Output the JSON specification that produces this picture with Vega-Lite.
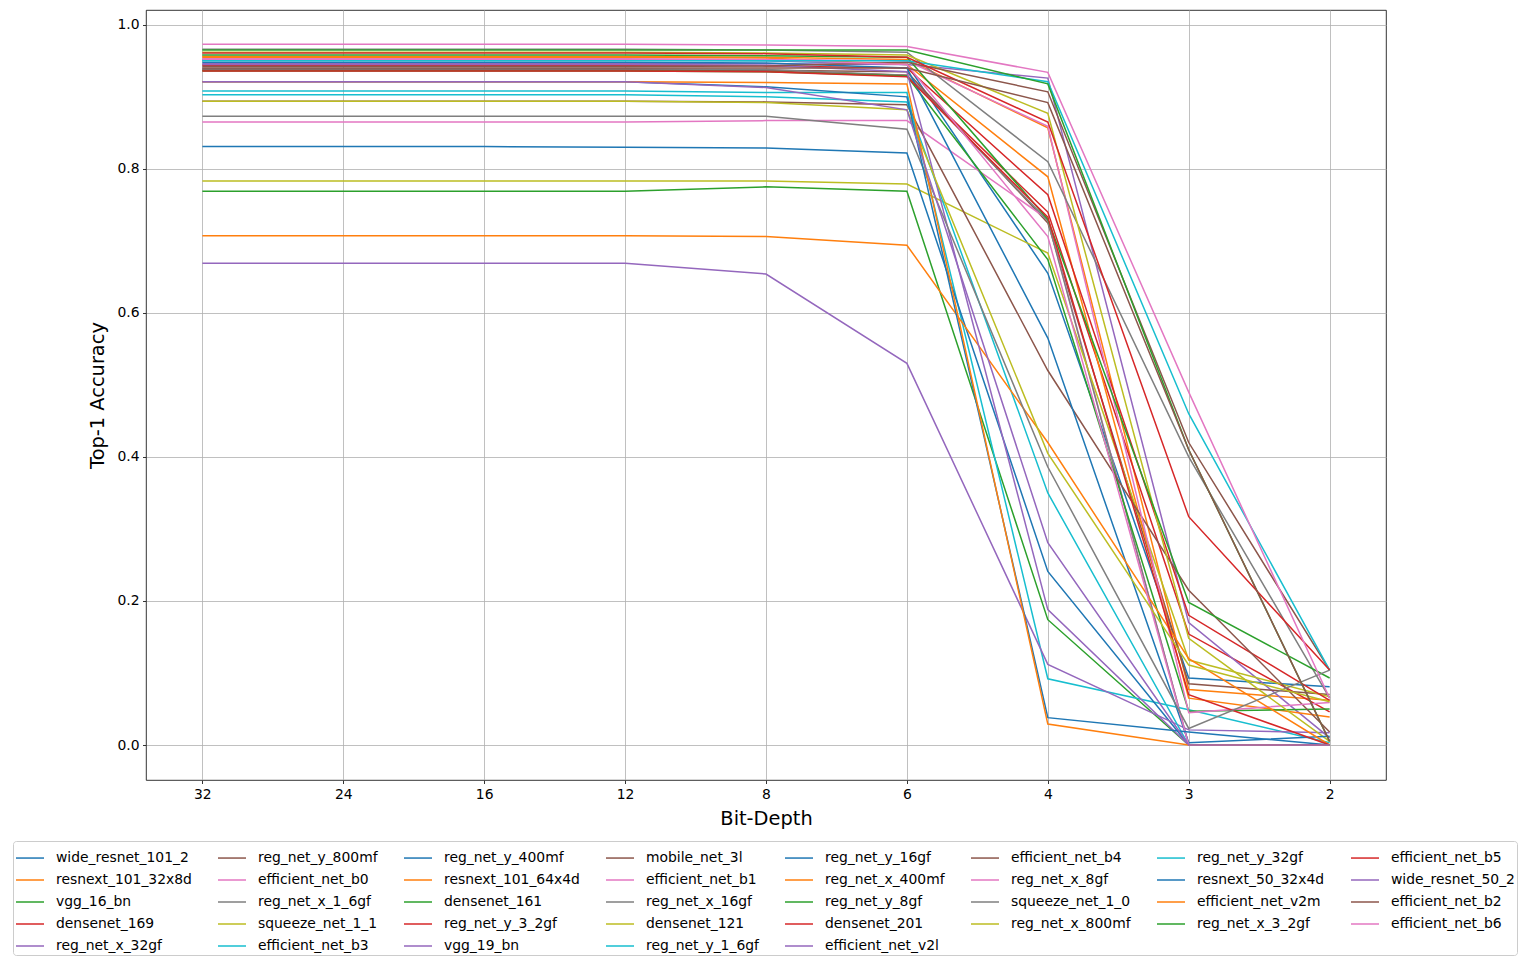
{
  "$schema": "https://vega.github.io/schema/vega-lite/v6.json",
  "width": 1240,
  "height": 770,
  "autosize": {"type": "none"},
  "padding": {"left": 146, "top": 10, "right": 145, "bottom": 184},
  "background": "white",
  "data": {
    "values": [
      {"model": "wide_resnet_101_2", "bits": "32", "acc": 0.951}, {"model": "wide_resnet_101_2", "bits": "24", "acc": 0.951}, {"model": "wide_resnet_101_2", "bits": "16", "acc": 0.951}, {"model": "wide_resnet_101_2", "bits": "12", "acc": 0.951}, {"model": "wide_resnet_101_2", "bits": "8", "acc": 0.950}, {"model": "wide_resnet_101_2", "bits": "6", "acc": 0.945}, {"model": "wide_resnet_101_2", "bits": "4", "acc": 0.655}, {"model": "wide_resnet_101_2", "bits": "3", "acc": 0.093}, {"model": "wide_resnet_101_2", "bits": "2", "acc": 0.081},
      {"model": "resnext_101_32x8d", "bits": "32", "acc": 0.956}, {"model": "resnext_101_32x8d", "bits": "24", "acc": 0.956}, {"model": "resnext_101_32x8d", "bits": "16", "acc": 0.956}, {"model": "resnext_101_32x8d", "bits": "12", "acc": 0.956}, {"model": "resnext_101_32x8d", "bits": "8", "acc": 0.955}, {"model": "resnext_101_32x8d", "bits": "6", "acc": 0.952}, {"model": "resnext_101_32x8d", "bits": "4", "acc": 0.857}, {"model": "resnext_101_32x8d", "bits": "3", "acc": 0.077}, {"model": "resnext_101_32x8d", "bits": "2", "acc": 0.062},
      {"model": "vgg_16_bn", "bits": "32", "acc": 0.769}, {"model": "vgg_16_bn", "bits": "24", "acc": 0.769}, {"model": "vgg_16_bn", "bits": "16", "acc": 0.769}, {"model": "vgg_16_bn", "bits": "12", "acc": 0.769}, {"model": "vgg_16_bn", "bits": "8", "acc": 0.775}, {"model": "vgg_16_bn", "bits": "6", "acc": 0.769}, {"model": "vgg_16_bn", "bits": "4", "acc": 0.174}, {"model": "vgg_16_bn", "bits": "3", "acc": 0.0}, {"model": "vgg_16_bn", "bits": "2", "acc": 0.0},
      {"model": "densenet_169", "bits": "32", "acc": 0.937}, {"model": "densenet_169", "bits": "24", "acc": 0.937}, {"model": "densenet_169", "bits": "16", "acc": 0.937}, {"model": "densenet_169", "bits": "12", "acc": 0.937}, {"model": "densenet_169", "bits": "8", "acc": 0.936}, {"model": "densenet_169", "bits": "6", "acc": 0.930}, {"model": "densenet_169", "bits": "4", "acc": 0.740}, {"model": "densenet_169", "bits": "3", "acc": 0.154}, {"model": "densenet_169", "bits": "2", "acc": 0.046},
      {"model": "reg_net_x_32gf", "bits": "32", "acc": 0.946}, {"model": "reg_net_x_32gf", "bits": "24", "acc": 0.946}, {"model": "reg_net_x_32gf", "bits": "16", "acc": 0.946}, {"model": "reg_net_x_32gf", "bits": "12", "acc": 0.946}, {"model": "reg_net_x_32gf", "bits": "8", "acc": 0.946}, {"model": "reg_net_x_32gf", "bits": "6", "acc": 0.945}, {"model": "reg_net_x_32gf", "bits": "4", "acc": 0.926}, {"model": "reg_net_x_32gf", "bits": "3", "acc": 0.170}, {"model": "reg_net_x_32gf", "bits": "2", "acc": 0.010},
      {"model": "reg_net_y_800mf", "bits": "32", "acc": 0.938}, {"model": "reg_net_y_800mf", "bits": "24", "acc": 0.938}, {"model": "reg_net_y_800mf", "bits": "16", "acc": 0.938}, {"model": "reg_net_y_800mf", "bits": "12", "acc": 0.938}, {"model": "reg_net_y_800mf", "bits": "8", "acc": 0.937}, {"model": "reg_net_y_800mf", "bits": "6", "acc": 0.935}, {"model": "reg_net_y_800mf", "bits": "4", "acc": 0.725}, {"model": "reg_net_y_800mf", "bits": "3", "acc": 0.085}, {"model": "reg_net_y_800mf", "bits": "2", "acc": 0.070},
      {"model": "efficient_net_b0", "bits": "32", "acc": 0.865}, {"model": "efficient_net_b0", "bits": "24", "acc": 0.865}, {"model": "efficient_net_b0", "bits": "16", "acc": 0.865}, {"model": "efficient_net_b0", "bits": "12", "acc": 0.865}, {"model": "efficient_net_b0", "bits": "8", "acc": 0.867}, {"model": "efficient_net_b0", "bits": "6", "acc": 0.867}, {"model": "efficient_net_b0", "bits": "4", "acc": 0.730}, {"model": "efficient_net_b0", "bits": "3", "acc": 0.0}, {"model": "efficient_net_b0", "bits": "2", "acc": 0.0},
      {"model": "reg_net_x_1_6gf", "bits": "32", "acc": 0.939}, {"model": "reg_net_x_1_6gf", "bits": "24", "acc": 0.939}, {"model": "reg_net_x_1_6gf", "bits": "16", "acc": 0.939}, {"model": "reg_net_x_1_6gf", "bits": "12", "acc": 0.939}, {"model": "reg_net_x_1_6gf", "bits": "8", "acc": 0.938}, {"model": "reg_net_x_1_6gf", "bits": "6", "acc": 0.930}, {"model": "reg_net_x_1_6gf", "bits": "4", "acc": 0.728}, {"model": "reg_net_x_1_6gf", "bits": "3", "acc": 0.0}, {"model": "reg_net_x_1_6gf", "bits": "2", "acc": 0.0},
      {"model": "squeeze_net_1_1", "bits": "32", "acc": 0.783}, {"model": "squeeze_net_1_1", "bits": "24", "acc": 0.783}, {"model": "squeeze_net_1_1", "bits": "16", "acc": 0.783}, {"model": "squeeze_net_1_1", "bits": "12", "acc": 0.783}, {"model": "squeeze_net_1_1", "bits": "8", "acc": 0.783}, {"model": "squeeze_net_1_1", "bits": "6", "acc": 0.779}, {"model": "squeeze_net_1_1", "bits": "4", "acc": 0.683}, {"model": "squeeze_net_1_1", "bits": "3", "acc": 0.118}, {"model": "squeeze_net_1_1", "bits": "2", "acc": 0.067},
      {"model": "efficient_net_b3", "bits": "32", "acc": 0.908}, {"model": "efficient_net_b3", "bits": "24", "acc": 0.908}, {"model": "efficient_net_b3", "bits": "16", "acc": 0.908}, {"model": "efficient_net_b3", "bits": "12", "acc": 0.908}, {"model": "efficient_net_b3", "bits": "8", "acc": 0.906}, {"model": "efficient_net_b3", "bits": "6", "acc": 0.906}, {"model": "efficient_net_b3", "bits": "4", "acc": 0.092}, {"model": "efficient_net_b3", "bits": "3", "acc": 0.049}, {"model": "efficient_net_b3", "bits": "2", "acc": 0.003},
      {"model": "reg_net_y_400mf", "bits": "32", "acc": 0.831}, {"model": "reg_net_y_400mf", "bits": "24", "acc": 0.831}, {"model": "reg_net_y_400mf", "bits": "16", "acc": 0.831}, {"model": "reg_net_y_400mf", "bits": "12", "acc": 0.830}, {"model": "reg_net_y_400mf", "bits": "8", "acc": 0.829}, {"model": "reg_net_y_400mf", "bits": "6", "acc": 0.822}, {"model": "reg_net_y_400mf", "bits": "4", "acc": 0.241}, {"model": "reg_net_y_400mf", "bits": "3", "acc": 0.0}, {"model": "reg_net_y_400mf", "bits": "2", "acc": 0.0},
      {"model": "resnext_101_64x4d", "bits": "32", "acc": 0.955}, {"model": "resnext_101_64x4d", "bits": "24", "acc": 0.955}, {"model": "resnext_101_64x4d", "bits": "16", "acc": 0.955}, {"model": "resnext_101_64x4d", "bits": "12", "acc": 0.955}, {"model": "resnext_101_64x4d", "bits": "8", "acc": 0.954}, {"model": "resnext_101_64x4d", "bits": "6", "acc": 0.945}, {"model": "resnext_101_64x4d", "bits": "4", "acc": 0.789}, {"model": "resnext_101_64x4d", "bits": "3", "acc": 0.065}, {"model": "resnext_101_64x4d", "bits": "2", "acc": 0.039},
      {"model": "densenet_161", "bits": "32", "acc": 0.936}, {"model": "densenet_161", "bits": "24", "acc": 0.936}, {"model": "densenet_161", "bits": "16", "acc": 0.936}, {"model": "densenet_161", "bits": "12", "acc": 0.936}, {"model": "densenet_161", "bits": "8", "acc": 0.935}, {"model": "densenet_161", "bits": "6", "acc": 0.929}, {"model": "densenet_161", "bits": "4", "acc": 0.674}, {"model": "densenet_161", "bits": "3", "acc": 0.047}, {"model": "densenet_161", "bits": "2", "acc": 0.050},
      {"model": "reg_net_y_3_2gf", "bits": "32", "acc": 0.944}, {"model": "reg_net_y_3_2gf", "bits": "24", "acc": 0.944}, {"model": "reg_net_y_3_2gf", "bits": "16", "acc": 0.944}, {"model": "reg_net_y_3_2gf", "bits": "12", "acc": 0.944}, {"model": "reg_net_y_3_2gf", "bits": "8", "acc": 0.943}, {"model": "reg_net_y_3_2gf", "bits": "6", "acc": 0.940}, {"model": "reg_net_y_3_2gf", "bits": "4", "acc": 0.764}, {"model": "reg_net_y_3_2gf", "bits": "3", "acc": 0.180}, {"model": "reg_net_y_3_2gf", "bits": "2", "acc": 0.062},
      {"model": "vgg_19_bn", "bits": "32", "acc": 0.669}, {"model": "vgg_19_bn", "bits": "24", "acc": 0.669}, {"model": "vgg_19_bn", "bits": "16", "acc": 0.669}, {"model": "vgg_19_bn", "bits": "12", "acc": 0.669}, {"model": "vgg_19_bn", "bits": "8", "acc": 0.654}, {"model": "vgg_19_bn", "bits": "6", "acc": 0.530}, {"model": "vgg_19_bn", "bits": "4", "acc": 0.112}, {"model": "vgg_19_bn", "bits": "3", "acc": 0.021}, {"model": "vgg_19_bn", "bits": "2", "acc": 0.017},
      {"model": "mobile_net_3l", "bits": "32", "acc": 0.894}, {"model": "mobile_net_3l", "bits": "24", "acc": 0.894}, {"model": "mobile_net_3l", "bits": "16", "acc": 0.894}, {"model": "mobile_net_3l", "bits": "12", "acc": 0.894}, {"model": "mobile_net_3l", "bits": "8", "acc": 0.893}, {"model": "mobile_net_3l", "bits": "6", "acc": 0.889}, {"model": "mobile_net_3l", "bits": "4", "acc": 0.520}, {"model": "mobile_net_3l", "bits": "3", "acc": 0.215}, {"model": "mobile_net_3l", "bits": "2", "acc": 0.018},
      {"model": "efficient_net_b1", "bits": "32", "acc": 0.953}, {"model": "efficient_net_b1", "bits": "24", "acc": 0.953}, {"model": "efficient_net_b1", "bits": "16", "acc": 0.953}, {"model": "efficient_net_b1", "bits": "12", "acc": 0.953}, {"model": "efficient_net_b1", "bits": "8", "acc": 0.952}, {"model": "efficient_net_b1", "bits": "6", "acc": 0.950}, {"model": "efficient_net_b1", "bits": "4", "acc": 0.859}, {"model": "efficient_net_b1", "bits": "3", "acc": 0.045}, {"model": "efficient_net_b1", "bits": "2", "acc": 0.059},
      {"model": "reg_net_x_16gf", "bits": "32", "acc": 0.966}, {"model": "reg_net_x_16gf", "bits": "24", "acc": 0.966}, {"model": "reg_net_x_16gf", "bits": "16", "acc": 0.966}, {"model": "reg_net_x_16gf", "bits": "12", "acc": 0.966}, {"model": "reg_net_x_16gf", "bits": "8", "acc": 0.965}, {"model": "reg_net_x_16gf", "bits": "6", "acc": 0.962}, {"model": "reg_net_x_16gf", "bits": "4", "acc": 0.810}, {"model": "reg_net_x_16gf", "bits": "3", "acc": 0.400}, {"model": "reg_net_x_16gf", "bits": "2", "acc": 0.065},
      {"model": "densenet_121", "bits": "32", "acc": 0.962}, {"model": "densenet_121", "bits": "24", "acc": 0.962}, {"model": "densenet_121", "bits": "16", "acc": 0.962}, {"model": "densenet_121", "bits": "12", "acc": 0.962}, {"model": "densenet_121", "bits": "8", "acc": 0.961}, {"model": "densenet_121", "bits": "6", "acc": 0.958}, {"model": "densenet_121", "bits": "4", "acc": 0.877}, {"model": "densenet_121", "bits": "3", "acc": 0.148}, {"model": "densenet_121", "bits": "2", "acc": 0.005},
      {"model": "reg_net_y_1_6gf", "bits": "32", "acc": 0.903}, {"model": "reg_net_y_1_6gf", "bits": "24", "acc": 0.903}, {"model": "reg_net_y_1_6gf", "bits": "16", "acc": 0.903}, {"model": "reg_net_y_1_6gf", "bits": "12", "acc": 0.903}, {"model": "reg_net_y_1_6gf", "bits": "8", "acc": 0.900}, {"model": "reg_net_y_1_6gf", "bits": "6", "acc": 0.893}, {"model": "reg_net_y_1_6gf", "bits": "4", "acc": 0.350}, {"model": "reg_net_y_1_6gf", "bits": "3", "acc": 0.0}, {"model": "reg_net_y_1_6gf", "bits": "2", "acc": 0.0},
      {"model": "reg_net_y_16gf", "bits": "32", "acc": 0.948}, {"model": "reg_net_y_16gf", "bits": "24", "acc": 0.948}, {"model": "reg_net_y_16gf", "bits": "16", "acc": 0.948}, {"model": "reg_net_y_16gf", "bits": "12", "acc": 0.948}, {"model": "reg_net_y_16gf", "bits": "8", "acc": 0.947}, {"model": "reg_net_y_16gf", "bits": "6", "acc": 0.940}, {"model": "reg_net_y_16gf", "bits": "4", "acc": 0.565}, {"model": "reg_net_y_16gf", "bits": "3", "acc": 0.003}, {"model": "reg_net_y_16gf", "bits": "2", "acc": 0.012},
      {"model": "reg_net_x_400mf", "bits": "32", "acc": 0.707}, {"model": "reg_net_x_400mf", "bits": "24", "acc": 0.707}, {"model": "reg_net_x_400mf", "bits": "16", "acc": 0.707}, {"model": "reg_net_x_400mf", "bits": "12", "acc": 0.707}, {"model": "reg_net_x_400mf", "bits": "8", "acc": 0.706}, {"model": "reg_net_x_400mf", "bits": "6", "acc": 0.694}, {"model": "reg_net_x_400mf", "bits": "4", "acc": 0.420}, {"model": "reg_net_x_400mf", "bits": "3", "acc": 0.120}, {"model": "reg_net_x_400mf", "bits": "2", "acc": 0.0},
      {"model": "reg_net_y_8gf", "bits": "32", "acc": 0.958}, {"model": "reg_net_y_8gf", "bits": "24", "acc": 0.958}, {"model": "reg_net_y_8gf", "bits": "16", "acc": 0.958}, {"model": "reg_net_y_8gf", "bits": "12", "acc": 0.958}, {"model": "reg_net_y_8gf", "bits": "8", "acc": 0.957}, {"model": "reg_net_y_8gf", "bits": "6", "acc": 0.955}, {"model": "reg_net_y_8gf", "bits": "4", "acc": 0.730}, {"model": "reg_net_y_8gf", "bits": "3", "acc": 0.198}, {"model": "reg_net_y_8gf", "bits": "2", "acc": 0.093},
      {"model": "densenet_201", "bits": "32", "acc": 0.936}, {"model": "densenet_201", "bits": "24", "acc": 0.936}, {"model": "densenet_201", "bits": "16", "acc": 0.936}, {"model": "densenet_201", "bits": "12", "acc": 0.936}, {"model": "densenet_201", "bits": "8", "acc": 0.935}, {"model": "densenet_201", "bits": "6", "acc": 0.928}, {"model": "densenet_201", "bits": "4", "acc": 0.733}, {"model": "densenet_201", "bits": "3", "acc": 0.070}, {"model": "densenet_201", "bits": "2", "acc": 0.0},
      {"model": "efficient_net_v2l", "bits": "32", "acc": 0.945}, {"model": "efficient_net_v2l", "bits": "24", "acc": 0.945}, {"model": "efficient_net_v2l", "bits": "16", "acc": 0.945}, {"model": "efficient_net_v2l", "bits": "12", "acc": 0.945}, {"model": "efficient_net_v2l", "bits": "8", "acc": 0.944}, {"model": "efficient_net_v2l", "bits": "6", "acc": 0.935}, {"model": "efficient_net_v2l", "bits": "4", "acc": 0.188}, {"model": "efficient_net_v2l", "bits": "3", "acc": 0.0}, {"model": "efficient_net_v2l", "bits": "2", "acc": 0.0},
      {"model": "efficient_net_b4", "bits": "32", "acc": 0.942}, {"model": "efficient_net_b4", "bits": "24", "acc": 0.942}, {"model": "efficient_net_b4", "bits": "16", "acc": 0.942}, {"model": "efficient_net_b4", "bits": "12", "acc": 0.942}, {"model": "efficient_net_b4", "bits": "8", "acc": 0.943}, {"model": "efficient_net_b4", "bits": "6", "acc": 0.948}, {"model": "efficient_net_b4", "bits": "4", "acc": 0.907}, {"model": "efficient_net_b4", "bits": "3", "acc": 0.420}, {"model": "efficient_net_b4", "bits": "2", "acc": 0.104},
      {"model": "reg_net_x_8gf", "bits": "32", "acc": 0.952}, {"model": "reg_net_x_8gf", "bits": "24", "acc": 0.952}, {"model": "reg_net_x_8gf", "bits": "16", "acc": 0.952}, {"model": "reg_net_x_8gf", "bits": "12", "acc": 0.952}, {"model": "reg_net_x_8gf", "bits": "8", "acc": 0.951}, {"model": "reg_net_x_8gf", "bits": "6", "acc": 0.945}, {"model": "reg_net_x_8gf", "bits": "4", "acc": 0.706}, {"model": "reg_net_x_8gf", "bits": "3", "acc": 0.0}, {"model": "reg_net_x_8gf", "bits": "2", "acc": 0.0},
      {"model": "squeeze_net_1_0", "bits": "32", "acc": 0.873}, {"model": "squeeze_net_1_0", "bits": "24", "acc": 0.873}, {"model": "squeeze_net_1_0", "bits": "16", "acc": 0.873}, {"model": "squeeze_net_1_0", "bits": "12", "acc": 0.873}, {"model": "squeeze_net_1_0", "bits": "8", "acc": 0.873}, {"model": "squeeze_net_1_0", "bits": "6", "acc": 0.855}, {"model": "squeeze_net_1_0", "bits": "4", "acc": 0.386}, {"model": "squeeze_net_1_0", "bits": "3", "acc": 0.023}, {"model": "squeeze_net_1_0", "bits": "2", "acc": 0.104},
      {"model": "reg_net_x_800mf", "bits": "32", "acc": 0.894}, {"model": "reg_net_x_800mf", "bits": "24", "acc": 0.894}, {"model": "reg_net_x_800mf", "bits": "16", "acc": 0.894}, {"model": "reg_net_x_800mf", "bits": "12", "acc": 0.894}, {"model": "reg_net_x_800mf", "bits": "8", "acc": 0.892}, {"model": "reg_net_x_800mf", "bits": "6", "acc": 0.882}, {"model": "reg_net_x_800mf", "bits": "4", "acc": 0.405}, {"model": "reg_net_x_800mf", "bits": "3", "acc": 0.111}, {"model": "reg_net_x_800mf", "bits": "2", "acc": 0.060},
      {"model": "reg_net_y_32gf", "bits": "32", "acc": 0.950}, {"model": "reg_net_y_32gf", "bits": "24", "acc": 0.950}, {"model": "reg_net_y_32gf", "bits": "16", "acc": 0.950}, {"model": "reg_net_y_32gf", "bits": "12", "acc": 0.950}, {"model": "reg_net_y_32gf", "bits": "8", "acc": 0.950}, {"model": "reg_net_y_32gf", "bits": "6", "acc": 0.950}, {"model": "reg_net_y_32gf", "bits": "4", "acc": 0.921}, {"model": "reg_net_y_32gf", "bits": "3", "acc": 0.460}, {"model": "reg_net_y_32gf", "bits": "2", "acc": 0.104},
      {"model": "resnext_50_32x4d", "bits": "32", "acc": 0.921}, {"model": "resnext_50_32x4d", "bits": "24", "acc": 0.921}, {"model": "resnext_50_32x4d", "bits": "16", "acc": 0.921}, {"model": "resnext_50_32x4d", "bits": "12", "acc": 0.921}, {"model": "resnext_50_32x4d", "bits": "8", "acc": 0.914}, {"model": "resnext_50_32x4d", "bits": "6", "acc": 0.900}, {"model": "resnext_50_32x4d", "bits": "4", "acc": 0.038}, {"model": "resnext_50_32x4d", "bits": "3", "acc": 0.018}, {"model": "resnext_50_32x4d", "bits": "2", "acc": 0.0},
      {"model": "efficient_net_v2m", "bits": "32", "acc": 0.921}, {"model": "efficient_net_v2m", "bits": "24", "acc": 0.921}, {"model": "efficient_net_v2m", "bits": "16", "acc": 0.921}, {"model": "efficient_net_v2m", "bits": "12", "acc": 0.921}, {"model": "efficient_net_v2m", "bits": "8", "acc": 0.920}, {"model": "efficient_net_v2m", "bits": "6", "acc": 0.918}, {"model": "efficient_net_v2m", "bits": "4", "acc": 0.029}, {"model": "efficient_net_v2m", "bits": "3", "acc": 0.0}, {"model": "efficient_net_v2m", "bits": "2", "acc": 0.0},
      {"model": "reg_net_x_3_2gf", "bits": "32", "acc": 0.965}, {"model": "reg_net_x_3_2gf", "bits": "24", "acc": 0.965}, {"model": "reg_net_x_3_2gf", "bits": "16", "acc": 0.965}, {"model": "reg_net_x_3_2gf", "bits": "12", "acc": 0.965}, {"model": "reg_net_x_3_2gf", "bits": "8", "acc": 0.965}, {"model": "reg_net_x_3_2gf", "bits": "6", "acc": 0.965}, {"model": "reg_net_x_3_2gf", "bits": "4", "acc": 0.918}, {"model": "reg_net_x_3_2gf", "bits": "3", "acc": 0.410}, {"model": "reg_net_x_3_2gf", "bits": "2", "acc": 0.005},
      {"model": "efficient_net_b5", "bits": "32", "acc": 0.961}, {"model": "efficient_net_b5", "bits": "24", "acc": 0.961}, {"model": "efficient_net_b5", "bits": "16", "acc": 0.961}, {"model": "efficient_net_b5", "bits": "12", "acc": 0.961}, {"model": "efficient_net_b5", "bits": "8", "acc": 0.960}, {"model": "efficient_net_b5", "bits": "6", "acc": 0.955}, {"model": "efficient_net_b5", "bits": "4", "acc": 0.865}, {"model": "efficient_net_b5", "bits": "3", "acc": 0.317}, {"model": "efficient_net_b5", "bits": "2", "acc": 0.104},
      {"model": "wide_resnet_50_2", "bits": "32", "acc": 0.921}, {"model": "wide_resnet_50_2", "bits": "24", "acc": 0.921}, {"model": "wide_resnet_50_2", "bits": "16", "acc": 0.921}, {"model": "wide_resnet_50_2", "bits": "12", "acc": 0.921}, {"model": "wide_resnet_50_2", "bits": "8", "acc": 0.913}, {"model": "wide_resnet_50_2", "bits": "6", "acc": 0.882}, {"model": "wide_resnet_50_2", "bits": "4", "acc": 0.281}, {"model": "wide_resnet_50_2", "bits": "3", "acc": 0.0}, {"model": "wide_resnet_50_2", "bits": "2", "acc": 0.0},
      {"model": "efficient_net_b2", "bits": "32", "acc": 0.940}, {"model": "efficient_net_b2", "bits": "24", "acc": 0.940}, {"model": "efficient_net_b2", "bits": "16", "acc": 0.940}, {"model": "efficient_net_b2", "bits": "12", "acc": 0.940}, {"model": "efficient_net_b2", "bits": "8", "acc": 0.940}, {"model": "efficient_net_b2", "bits": "6", "acc": 0.940}, {"model": "efficient_net_b2", "bits": "4", "acc": 0.892}, {"model": "efficient_net_b2", "bits": "3", "acc": 0.410}, {"model": "efficient_net_b2", "bits": "2", "acc": 0.005},
      {"model": "efficient_net_b6", "bits": "32", "acc": 0.973}, {"model": "efficient_net_b6", "bits": "24", "acc": 0.973}, {"model": "efficient_net_b6", "bits": "16", "acc": 0.973}, {"model": "efficient_net_b6", "bits": "12", "acc": 0.973}, {"model": "efficient_net_b6", "bits": "8", "acc": 0.972}, {"model": "efficient_net_b6", "bits": "6", "acc": 0.970}, {"model": "efficient_net_b6", "bits": "4", "acc": 0.934}, {"model": "efficient_net_b6", "bits": "3", "acc": 0.490}, {"model": "efficient_net_b6", "bits": "2", "acc": 0.065}
    ]
  },
  "mark": {"type": "line", "strokeWidth": 1.5},
  "encoding": {
    "x": {
      "field": "bits",
      "type": "ordinal",
      "sort": ["32", "24", "16", "12", "8", "6", "4", "3", "2"],
      "scale": {"type": "point", "padding": 0.4},
      "axis": {"title": "Bit-Depth", "labelAngle": 0, "titlePadding": 9}
    },
    "y": {
      "field": "acc",
      "type": "quantitative",
      "scale": {"domain": [-0.0486, 1.0206], "nice": false, "zero": false},
      "axis": {"title": "Top-1 Accuracy", "values": [0, 0.2, 0.4, 0.6, 0.8, 1.0], "format": ".1f", "titlePadding": 9}
    },
    "color": {
      "field": "model",
      "type": "nominal",
      "scale": {
        "domain": [
          "wide_resnet_101_2", "reg_net_y_800mf", "reg_net_y_400mf", "mobile_net_3l", "reg_net_y_16gf", "efficient_net_b4", "reg_net_y_32gf", "efficient_net_b5",
          "resnext_101_32x8d", "efficient_net_b0", "resnext_101_64x4d", "efficient_net_b1", "reg_net_x_400mf", "reg_net_x_8gf", "resnext_50_32x4d", "wide_resnet_50_2",
          "vgg_16_bn", "reg_net_x_1_6gf", "densenet_161", "reg_net_x_16gf", "reg_net_y_8gf", "squeeze_net_1_0", "efficient_net_v2m", "efficient_net_b2",
          "densenet_169", "squeeze_net_1_1", "reg_net_y_3_2gf", "densenet_121", "densenet_201", "reg_net_x_800mf", "reg_net_x_3_2gf", "efficient_net_b6",
          "reg_net_x_32gf", "efficient_net_b3", "vgg_19_bn", "reg_net_y_1_6gf", "efficient_net_v2l"
        ],
        "range": [
          "#1f77b4", "#8c564b", "#1f77b4", "#8c564b", "#1f77b4", "#8c564b", "#17becf", "#d62728",
          "#ff7f0e", "#e377c2", "#ff7f0e", "#e377c2", "#ff7f0e", "#e377c2", "#1f77b4", "#9467bd",
          "#2ca02c", "#7f7f7f", "#2ca02c", "#7f7f7f", "#2ca02c", "#7f7f7f", "#ff7f0e", "#8c564b",
          "#d62728", "#bcbd22", "#d62728", "#bcbd22", "#d62728", "#bcbd22", "#2ca02c", "#e377c2",
          "#9467bd", "#17becf", "#9467bd", "#17becf", "#9467bd"
        ]
      },
      "legend": {
        "title": null,
        "orient": "none",
        "direction": "horizontal",
        "legendX": -133,
        "legendY": 831,
        "columns": 8,
        "symbolLimit": 100,
        "symbolType": "stroke",
        "symbolSize": 784,
        "symbolStrokeWidth": 1.5,
        "labelOffset": 11,
        "labelLimit": 400,
        "rowPadding": -9,
        "columnPadding": 23,
        "padding": 2,
        "strokeColor": "#cccccc",
        "fillColor": "white",
        "cornerRadius": 3
      }
    }
  },
  "config": {
    "view": {"stroke": "black", "strokeWidth": 0.8},
    "axis": {
      "labelFont": "DejaVu Sans",
      "labelFontSize": 13.9,
      "labelColor": "black",
      "titleFont": "DejaVu Sans",
      "titleFontSize": 19.4,
      "titleFontWeight": "normal",
      "titleColor": "black",
      "grid": true,
      "gridColor": "#b0b0b0",
      "gridWidth": 0.8,
      "gridOpacity": 1,
      "domain": false,
      "tickColor": "black",
      "tickSize": 3.5,
      "tickWidth": 0.8,
      "labelPadding": 3.5
    },
    "legend": {
      "labelFont": "DejaVu Sans",
      "labelFontSize": 13.9,
      "labelColor": "black"
    }
  }
}
